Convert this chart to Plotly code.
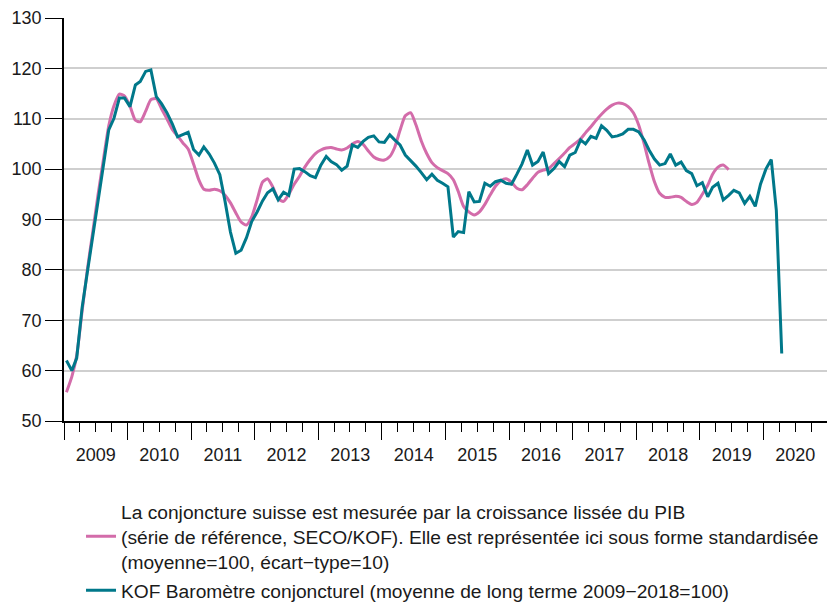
import pandas as pd
import plotly.graph_objects as go

# KOF Barometer, monthly Jan 2009 - Apr 2020
kof = [
    62.0, 60.0, 62.5, 72.5, 79.5, 86.4, 93.2, 100.2, 107.8, 110.1, 114.1, 114.1,
    112.4, 116.7, 117.4, 119.4, 119.7, 114.4, 113.0, 111.2, 109.0, 106.4, 106.9, 107.3,
    103.9, 102.8, 104.4, 103.0, 101.2, 98.9, 93.6, 87.5, 83.3, 83.9, 86.4, 89.6,
    91.5, 93.7, 95.3, 96.1, 93.9, 95.4, 94.8, 100.0, 100.1, 99.5, 98.7, 98.3,
    100.8, 102.5, 101.5, 100.9, 99.8, 100.6, 104.8, 104.3, 105.5, 106.3, 106.6, 105.4,
    105.3, 106.8, 105.8, 104.8, 102.8, 101.7, 100.6, 99.3, 97.9, 99.0, 97.8, 97.2,
    96.5, 86.5, 87.6, 87.4, 95.5, 93.5, 93.6, 97.2, 96.6, 97.5, 97.8, 97.2,
    97.0, 99.0, 101.0, 103.8, 100.8, 101.5, 103.4, 99.1, 100.1, 101.5, 100.5, 102.8,
    103.3, 105.8, 105.0, 106.5, 106.1, 108.6, 107.7, 106.4, 106.6, 107.0, 107.9, 107.9,
    107.4, 105.8, 103.8, 102.0, 100.8, 101.1, 103.0, 100.8, 101.4, 99.7, 99.1, 96.7,
    97.3, 94.5, 96.4, 97.2, 93.9, 94.8, 95.8, 95.3, 93.2, 94.6, 92.6, 97.0,
    100.0, 101.9, 91.8, 63.4,
]

# Reference series (smoothed GDP growth, standardised), monthly Jan 2009 - Jun 2019
ref = [
    55.7, 58.8, 63.0, 71.8, 80.0, 87.5, 94.8, 101.8, 108.6, 112.6, 114.9, 114.5,
    112.5, 109.7, 109.4, 111.5, 113.8, 114.0, 112.0, 110.0, 107.9, 106.6, 105.2, 104.0,
    101.0, 97.8, 96.0, 95.8, 96.0, 95.7, 94.8, 93.3, 91.3, 89.5, 88.9, 90.5,
    93.9, 97.4, 98.1, 96.4, 94.1, 93.6, 95.0, 97.0, 98.6, 100.4, 101.9, 103.1,
    103.8, 104.2, 104.3, 104.0, 103.8, 104.2, 105.0, 105.5, 104.9, 103.6, 102.4, 101.9,
    101.8, 102.5, 104.3, 107.7, 110.6, 111.2, 108.8, 105.6, 103.1, 101.3, 100.3, 99.7,
    99.1, 97.9, 95.6, 92.6, 91.5, 90.9, 91.5, 93.0, 94.9, 96.6, 97.7, 98.1,
    97.4, 96.2, 95.9, 96.9, 98.2, 99.4, 99.8, 100.1, 101.1, 102.1, 103.2, 104.3,
    105.1, 106.0, 107.2, 108.4, 109.7, 110.9, 111.9, 112.7, 113.1, 113.0, 112.4, 111.2,
    108.7, 105.0, 101.2, 97.5, 95.2, 94.4, 94.4, 94.6, 94.4, 93.6, 93.0, 93.4,
    95.0, 96.8, 99.0, 100.4, 100.8, 99.9,
]

ref_name = ("La conjoncture suisse est mesurée par la croissance lissée du PIB<br>"
            "(série de référence, SECO/KOF). Elle est représentée ici sous forme standardisée<br>"
            "(moyenne=100, écart\u2212type=10)")
kof_name = "KOF Baromètre conjoncturel (moyenne de long terme 2009\u22122018=100)"

# monthly observations, plotted mid-month
kof_dates = pd.date_range("2009-01-01", periods=len(kof), freq="MS") + pd.Timedelta(days=14)
ref_dates = pd.date_range("2009-01-01", periods=len(ref), freq="MS") + pd.Timedelta(days=14)

PINK = "#D36CAA"
TEAL = "#00788A"
FONT = "Liberation Sans, Arial, sans-serif"

fig = go.Figure()
fig.add_trace(go.Scatter(x=ref_dates, y=ref, mode="lines", name=ref_name,
                         line=dict(color=PINK, width=3, shape="spline", smoothing=0.6),
                         legendgroup="a"))
fig.add_trace(go.Scatter(x=kof_dates, y=kof, mode="lines", name=kof_name,
                         line=dict(color=TEAL, width=3), legendgroup="b"))

fig.add_shape(type="line", xref="paper", yref="y", x0=0, x1=1, y0=100, y1=100,
              line=dict(color="black", width=1.3), layer="between")

fig.update_layout(
    width=827, height=607,
    margin=dict(l=64, r=0, t=18, b=186, autoexpand=False),
    paper_bgcolor="white", plot_bgcolor="white",
    font=dict(family=FONT, size=18, color="#1a1a1a"),
    showlegend=True,
    legend=dict(x=0.0223, y=-0.177, xanchor="left", yanchor="top",
                font=dict(size=19.2, family=FONT), traceorder="grouped",
                tracegroupgap=1, bgcolor="rgba(0,0,0,0)"),
    xaxis=dict(
        type="date", range=["2009-01-01", "2020-12-31"], automargin=False,
        tick0="2009-01-01", dtick="M12", ticklabelmode="period", tickformat="%Y",
        ticks="outside", ticklen=17, tickwidth=1.3, tickcolor="black",
        showline=True, linecolor="black", linewidth=1.5,
        showgrid=False, zeroline=False,
        minor=dict(dtick="M3", tick0="2009-01-01", ticks="outside", ticklen=9,
                   tickwidth=1.3, tickcolor="black", showgrid=False),
        tickfont=dict(size=18),
    ),
    yaxis=dict(
        range=[50, 130], dtick=10, tick0=50, automargin=False,
        ticks="outside", ticklen=17, tickwidth=1.3, tickcolor="black",
        showline=True, linecolor="black", linewidth=1.5,
        showgrid=True, gridcolor="#CFCFCF", gridwidth=1.5, zeroline=False,
        tickfont=dict(size=18),
    ),
)

fig.write_html("out.html", config={"displayModeBar": False},
               post_script="document.body.style.margin='0';document.body.style.overflow='hidden';")
